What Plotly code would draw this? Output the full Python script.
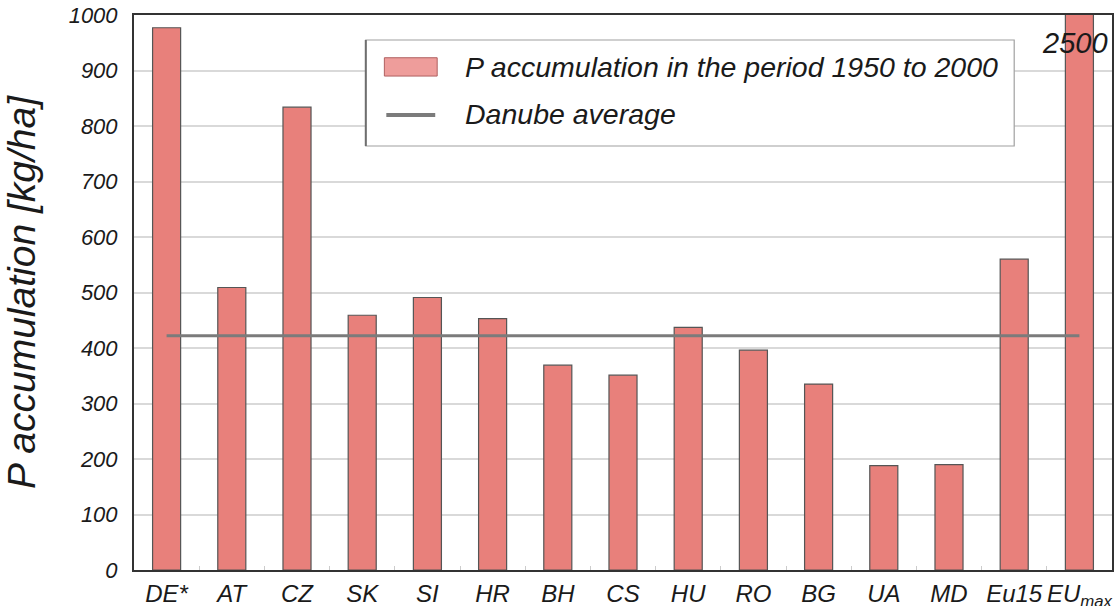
import plotly.graph_objects as go

# data
countries = ["DE*", "AT", "CZ", "SK", "SI", "HR", "BH", "CS", "HU", "RO", "BG", "UA", "MD", "Eu15", "EU<sub>max</sub>"]
p_accumulation = [977, 509, 834, 459, 491, 453, 369, 351, 437, 396, 335, 188, 190, 560, 2500]
danube_average = 422
y_ticks = [0, 100, 200, 300, 400, 500, 600, 700, 800, 900, 1000]

FONT = "Liberation Sans, Arial, sans-serif"
BAR_COLOR = "#e8807b"
LINE_COLOR = "#7b7b7b"

fig = go.Figure()
fig.add_trace(go.Bar(
    x=countries, y=p_accumulation,
    width=0.43,
    marker=dict(color=BAR_COLOR, line=dict(color="#555555", width=1.2)),
    showlegend=False,
))
fig.add_trace(go.Scatter(
    x=countries, y=[danube_average] * len(countries),
    mode="lines", line=dict(color=LINE_COLOR, width=3),
    showlegend=False,
))

# legend box drawn by hand so the bar swatch is a wide rectangle
fig.add_shape(type="rect", xref="paper", yref="paper",
              x0=0.237, x1=0.90, y0=0.764, y1=0.955,
              line=dict(color="#a0a0a0", width=1.2), fillcolor="white", layer="above")
fig.add_shape(type="line", xref="paper", yref="paper",
              x0=0.237, x1=0.237, y0=0.764, y1=0.955,
              line=dict(color="#6e6e6e", width=2), layer="above")
fig.add_shape(type="rect", xref="paper", yref="paper",
              x0=0.256, x1=0.310, y0=0.890, y1=0.923,
              line=dict(color="#b06060", width=1), fillcolor="#ee9d9b", layer="above")
fig.add_shape(type="line", xref="paper", yref="paper",
              x0=0.258, x1=0.308, y0=0.820, y1=0.820,
              line=dict(color=LINE_COLOR, width=4), layer="above")
ann_font = dict(family=FONT, size=28.5, color="#1a1a1a", style="italic")
fig.add_annotation(xref="paper", yref="paper", x=0.336, y=0.906, xanchor="left", yanchor="middle",
                   text="P accumulation in the period 1950 to 2000", showarrow=False, font=ann_font)
fig.add_annotation(xref="paper", yref="paper", x=0.336, y=0.822, xanchor="left", yanchor="middle",
                   text="Danube average", showarrow=False, font=ann_font)
fig.add_annotation(xref="paper", yref="paper", x=0.998, y=0.95, xanchor="right", yanchor="middle",
                   text="2500", showarrow=False,
                   font=dict(family=FONT, size=29, color="#1a1a1a", style="italic"))

fig.update_layout(
    width=1116, height=606,
    margin=dict(l=134, r=4, t=15, b=36),
    paper_bgcolor="white", plot_bgcolor="white",
    font=dict(family=FONT, color="#1a1a1a"),
    bargap=0.57,
)
fig.update_xaxes(
    range=[-0.5, 14.5], automargin=False, tickangle=0,
    showline=True, linecolor="#333333", linewidth=2, mirror=True,
    showgrid=False,
    ticks="inside", tickson="boundaries", ticklen=4, tickcolor="#cccccc",
    ticklabelstandoff=1,
    tickfont=dict(family=FONT, size=24, style="italic"),
)
fig.update_yaxes(
    range=[0, 1000], tickvals=y_ticks, automargin=False,
    showline=True, linecolor="#333333", linewidth=2, mirror=True,
    showgrid=True, gridcolor="#d9d9d9", gridwidth=1.5,
    zeroline=False, ticks="",
    ticklabelstandoff=10,
    tickfont=dict(family=FONT, size=22, style="italic"),
    title=dict(text="P accumulation [kg/ha]", standoff=26,
               font=dict(family=FONT, size=39, style="italic")),
)

# drop the default body margin so the figure sits at the page corner
fig.write_html("out.html", config={"displayModeBar": False},
               post_script="document.body.style.margin='0';")
